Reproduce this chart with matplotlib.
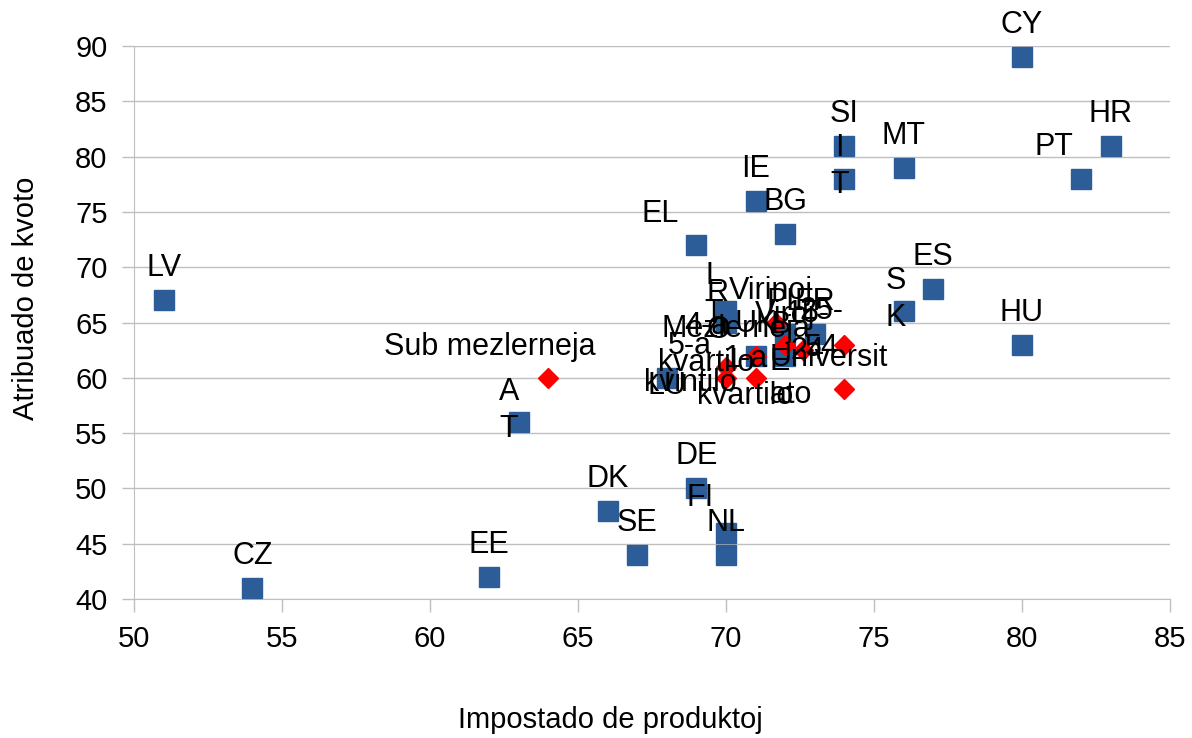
"""Scatter: Impostado de produktoj vs Atribuado de kvoto (landoj kaj grupoj)."""
import matplotlib
matplotlib.use("Agg")
import matplotlib.pyplot as plt

plt.rcParams["font.family"] = ["Liberation Sans", "DejaVu Sans"]

# ── data ─────────────────────────────────────────────────────────────────────
COUNTRIES = ["LV", "CZ", "EE", "A\nT", "DK", "SE", "DE", "FI", "NL", "EL",
             "IE", "BG", "SI", "I\nT", "MT", "CY", "PT", "HR", "ES", "S\nK",
             "HU", "LU", "R\nO", "L\nT", "PL", "B\nE", "FR", "UK"]
COUNTRY_X = [51, 54, 62, 63, 66, 67, 69, 70, 70, 69,
             71, 72, 74, 74, 76, 80, 82, 83, 77, 76,
             80, 68, 70, 70, 72, 72, 73, 71]
COUNTRY_Y = [67, 41, 42, 56, 48, 44, 50, 46, 44, 72,
             76, 73, 81, 78, 79, 89, 78, 81, 68, 66,
             63, 60, 66, 65, 64, 62, 64, 62]

GROUPS = ["Sub mezlerneja", "Mezlerneja", "Universit\nato", "Viroj", "Virinoj",
          "15-\n24", "25-\n54", "1-a\nkvartilo", "4-a\nkvartilo", "5-a\nkvintilo"]
GROUP_X = [64, 71, 74, 72, 71.7, 72.6, 74, 71, 70, 70]
GROUP_Y = [60, 62, 59, 63, 65, 62.5, 63, 60, 61, 60]

X_TICKS = [50, 55, 60, 65, 70, 75, 80, 85]
Y_TICKS = [40, 45, 50, 55, 60, 65, 70, 75, 80, 85, 90]

# label offsets in pixels (dx, dy up); default is straight above the marker
DEFAULT_OFF = (0, 32)
OFFSETS = {
    "PT": (-27, 32), "EL": (-36, 31), "FI": (-26, 35),
    "I\nT": (-5, 12), "S\nK": (-8, 12), "A\nT": (-10, 12),
    "LU": (0, -8), "R\nO": (-8, 0), "L\nT": (-12, 28), "B\nE": (-5, 12),
    "Sub mezlerneja": (-59, 31), "Mezlerneja": (-20, 27),
    "Universit\nato": (-75, 12), "Viroj": (0, 30), "Virinoj": (-5, 32),
    "15-\n24": (5, 18), "25-\n54": (-23, 15), "1-a\nkvartilo": (-10, 0),
    "4-a\nkvartilo": (-20, 22), "5-a\nkvintilo": (-36, 13),
}
LEFT_ALIGNED = {"Universit\nato"}

BLUE = "#2C5D98"
RED = "#FF0000"
GRID = "#BFBFBF"

fig = plt.figure(figsize=(11.92, 7.38), dpi=100)
ax = fig.add_axes([0.1124, 0.1883, 0.8691, 0.7494])

ax.plot(COUNTRY_X, COUNTRY_Y, ls="none", marker="s", ms=14, color=BLUE,
        zorder=3, clip_on=False)
ax.plot(GROUP_X, GROUP_Y, ls="none", marker="D", ms=10.5, color=RED,
        zorder=3, clip_on=False)

for names, xs, ys in [(COUNTRIES, COUNTRY_X, COUNTRY_Y), (GROUPS, GROUP_X, GROUP_Y)]:
    for name, x, y in zip(names, xs, ys):
        dx, dy = OFFSETS.get(name, DEFAULT_OFF)
        ha = "left" if name in LEFT_ALIGNED else "center"
        ax.annotate(name, xy=(x, y), xytext=(dx, dy), textcoords="offset pixels",
                    ha=ha, va="center", fontsize=22, linespacing=1.3,
                    zorder=4, annotation_clip=False)

ax.set_xlim(50, 85)
ax.set_ylim(40, 90)
ax.set_xticks(X_TICKS)
ax.set_yticks(Y_TICKS)
ax.yaxis.grid(True, color=GRID, lw=1)
ax.set_axisbelow(True)
for side in ["top", "right"]:
    ax.spines[side].set_visible(False)
for side in ["left", "bottom"]:
    ax.spines[side].set_color(GRID)
ax.tick_params(direction="out", length=9, width=1, color=GRID,
               labelsize=21, pad=10)

ax.set_xlabel("Impostado de produktoj", fontsize=21)
ax.xaxis.set_label_coords(0.46, -0.1935)
ax.set_ylabel("Atribuado de kvoto", fontsize=21)
ax.yaxis.set_label_coords(-0.091, 0.544)

fig.savefig("out.png", dpi=100)
